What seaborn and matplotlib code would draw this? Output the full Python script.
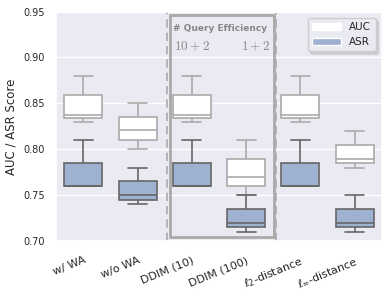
import numpy as np
import pandas as pd
import seaborn as sns
import matplotlib.pyplot as plt
from matplotlib.patches import Patch, Rectangle

categories = ['w/ WA', 'w/o WA', 'DDIM (10)', 'DDIM (100)',
              r'$\ell_2$-distance', r'$\ell_\infty$-distance']

# five-number summaries: min, q1, median, q3, max
auc_stats = [
    [0.830, 0.834, 0.837, 0.859, 0.880],
    [0.800, 0.810, 0.821, 0.835, 0.850],
    [0.830, 0.834, 0.837, 0.859, 0.880],
    [0.750, 0.760, 0.770, 0.790, 0.810],
    [0.830, 0.834, 0.837, 0.859, 0.880],
    [0.780, 0.785, 0.790, 0.805, 0.820],
]
asr_stats = [
    [0.760, 0.760, 0.760, 0.785, 0.810],
    [0.740, 0.745, 0.750, 0.765, 0.780],
    [0.760, 0.760, 0.760, 0.785, 0.810],
    [0.710, 0.715, 0.720, 0.735, 0.750],
    [0.760, 0.760, 0.760, 0.785, 0.810],
    [0.710, 0.715, 0.720, 0.735, 0.750],
]

rows = []
for cat, a, s in zip(categories, auc_stats, asr_stats):
    for v in a:
        rows.append((cat, 'AUC', v))
    for v in s:
        rows.append((cat, 'ASR', v))
df = pd.DataFrame(rows, columns=['method', 'metric', 'score'])

sns.set_theme(style='darkgrid')
fig, ax = plt.subplots(figsize=(3.9, 2.97), dpi=100)
fig.subplots_adjust(left=0.144, right=0.979, top=0.961, bottom=0.188)

asr_color = '#9fb1d1'
sns.boxplot(data=df[df.metric == 'AUC'], x='method', y='score', order=categories,
            color='white', saturation=1, width=0.7, whis=(0, 100),
            linecolor='#aaaaaa', linewidth=1.2, ax=ax)
sns.boxplot(data=df[df.metric == 'ASR'], x='method', y='score', order=categories,
            color=asr_color, saturation=1, width=0.7, whis=(0, 100),
            linecolor='#666666', linewidth=1.2, ax=ax)

ax.set_ylim(0.70, 0.95)
ax.set_yticks([0.70, 0.75, 0.80, 0.85, 0.90, 0.95])
ax.set_xlim(-0.5, 5.5)
ax.set_xlabel('')
ax.set_ylabel('AUC / ASR Score', fontsize=8.5)
ax.tick_params(axis='y', labelsize=7, pad=2)
ax.tick_params(axis='x', labelsize=8, pad=4)
plt.setp(ax.get_xticklabels(), rotation=22, ha='right', rotation_mode='anchor')

# query-efficiency highlight
for x in [1.54, 3.55]:
    ax.axvline(x, color='#aaaaaa', ls=(0, (5, 3)), lw=1.2, zorder=1)
ax.add_patch(Rectangle((1.6, 0.7045), 1.91, 0.242, fill=False,
                       edgecolor='#aaaaaa', lw=2, zorder=4))
ax.text(1.66, 0.932, '# Query Efficiency', fontsize=6.5, fontweight='bold',
        color='#888888', va='center')
ax.text(1.68, 0.912, r'$10+2$', fontsize=9.5, color='#888888', va='center',
        math_fontfamily='cm')
ax.text(3.44, 0.912, r'$1+2$', fontsize=9.5, color='#888888', va='center',
        ha='right', math_fontfamily='cm')

handles = [Patch(facecolor='white', label='AUC'),
           Patch(facecolor=asr_color, label='ASR')]
ax.legend(handles=handles, loc='upper right', fontsize=7.5,
          shadow={'color': '0.75', 'alpha': 0.6}, framealpha=1,
          frameon=True, handlelength=2.8, borderaxespad=0.6)

plt.savefig('out.png', dpi=100)
